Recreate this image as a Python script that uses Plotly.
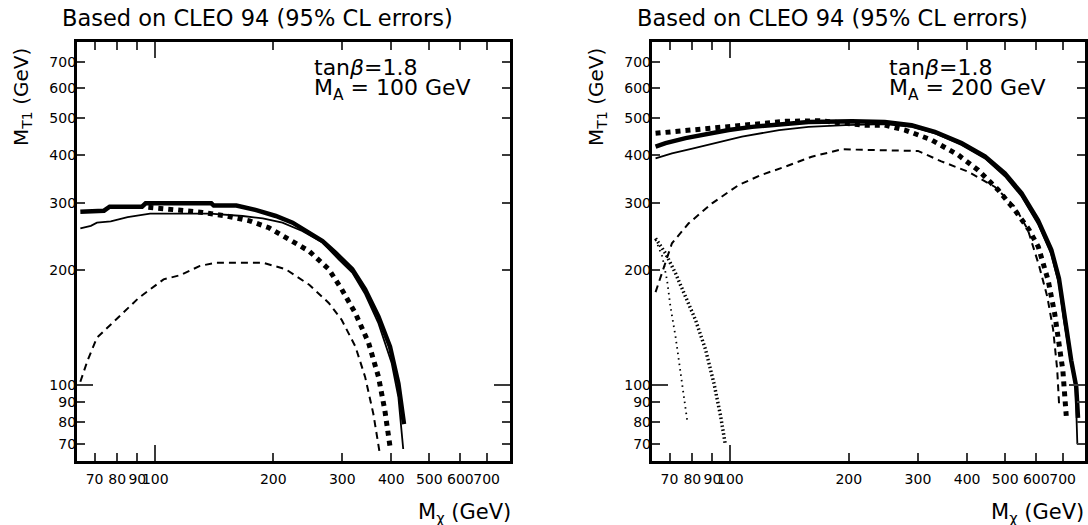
import plotly.graph_objects as go

# ---------------- data ----------------
# tick values shared by both axes of both panels
tick_vals = [70, 80, 90, 100, 200, 300, 400, 500, 600, 700]
decade_tick = [100]

# panel 1: tan(beta)=1.8, M_A = 100 GeV
p1_thick_x = [64.4, 74, 76.5, 92.5, 94.5, 139, 141, 161, 181, 203, 224, 247, 267, 288, 318, 343, 371, 397, 417, 431]
p1_thick_y = [284, 286, 293, 293, 299, 299, 295, 295, 287, 277, 266, 251, 238, 222, 201, 178, 151, 126, 101, 79]
p1_thin_x = [64.4, 68.5, 71, 77, 85, 97, 138, 167, 188, 211, 237, 267, 294, 318, 343, 371, 401, 417, 429]
p1_thin_y = [257, 261, 266, 268, 275, 281, 281, 277, 273, 266, 253, 236, 213, 197, 173, 145, 114, 93, 68]
p1_sq_x = [96, 113.5, 132, 152, 174, 195, 219, 247, 277, 299, 324, 350, 371, 385, 397]
p1_sq_y = [292, 288, 283, 277, 269, 258, 241, 224, 201, 178, 154, 129, 105, 86, 69]
p1_dash_x = [64.4, 67.2, 71, 78.5, 90.7, 105, 116, 130, 143, 188, 215, 247, 277, 299, 324, 343, 360, 374]
p1_dash_y = [102, 116, 133, 147, 169, 189, 194, 205, 209, 209, 201, 183, 164, 148, 126, 105, 84, 66]

# panel 2: tan(beta)=1.8, M_A = 200 GeV
p2_thick_x = [64.5, 68.4, 76.9, 86.5, 99, 113.5, 133, 158, 204, 247, 289, 331, 387, 444, 499, 550, 606, 655, 685, 708, 736, 758, 766]
p2_thick_y = [421, 430, 443, 454, 465, 474, 482, 488, 490, 488, 479, 460, 430, 397, 358, 318, 270, 226, 190, 150, 116, 99, 82]
p2_thin_x = [64.5, 71, 80, 93.4, 107, 133, 158, 196, 247, 289, 331, 387, 444, 499, 550, 606, 655, 685, 705, 733, 755, 763]
p2_thin_y = [392, 404, 416, 433, 447, 465, 474, 479, 482, 474, 456, 425, 392, 352, 312, 264, 220, 184, 148, 116, 99, 70]
p2_sq_x = [64.5, 76.9, 93.4, 113.5, 138, 168, 220, 247, 278, 325, 380, 427, 480, 529, 575, 607, 643, 668, 688, 701, 715]
p2_sq_y = [456, 464, 474, 482, 490, 492, 479, 479, 465, 438, 400, 365, 324, 287, 255, 230, 188, 154, 128, 109, 83]
p2_dash_x = [64.5, 68.4, 71, 78.3, 89.8, 105, 120, 138, 161, 192, 300, 344, 402, 471, 529, 571, 610, 640, 662, 678, 686]
p2_dash_y = [175, 208, 235, 265, 299, 334, 355, 373, 396, 414, 410, 385, 362, 330, 293, 255, 205, 170, 140, 110, 88]
p2_dot_x = [64.5, 67.1, 69, 70.4, 72.5, 74.6, 77.6]
p2_dot_y = [240, 217, 188, 160, 134, 109, 81]
p2_bar_x = [64.5, 68.4, 72.5, 76.9, 81.5, 86.4, 90.8, 94.4, 97.1]
p2_bar_y = [242, 221, 196, 170, 148, 124, 101, 83, 69.7]

titles = ["Based on CLEO 94 (95% CL errors)", "Based on CLEO 94 (95% CL errors)"]
ma_labels = ["M<sub>A</sub> = 100 GeV", "M<sub>A</sub> = 200 GeV"]

# ---------------- styling ----------------
FONT = "DejaVu Sans"
X_RANGE = [[1.8, 2.905], [1.8, 2.902]]
Y_RANGE = [1.801, 2.898]
X_DOM = [[77 / 1088, 511 / 1088], [653 / 1088, 1087 / 1088]]
Y_DOM = [64 / 525, 483 / 525]

fig = go.Figure()


def curve(x, y, panel, width, dash="solid"):
    fig.add_trace(go.Scatter(
        x=x, y=y, mode="lines",
        line=dict(color="black", width=width, dash=dash),
        xaxis="x" if panel == 0 else "x2",
        yaxis="y" if panel == 0 else "y2",
        showlegend=False, hoverinfo="skip"))


SQ = "5px,5px"
DASH = "7px,5px"

curve(p1_dash_x, p1_dash_y, 0, 2, DASH)
curve(p1_sq_x, p1_sq_y, 0, 5, SQ)
curve(p1_thin_x, p1_thin_y, 0, 1.8)
curve(p1_thick_x, p1_thick_y, 0, 4.5)

curve(p2_dash_x, p2_dash_y, 1, 2, DASH)
curve(p2_dot_x, p2_dot_y, 1, 1.8, "1.5px,4px")
curve(p2_bar_x, p2_bar_y, 1, 3.5, "1.5px,2.5px")
curve(p2_sq_x, p2_sq_y, 1, 5, SQ)
curve(p2_thin_x, p2_thin_y, 1, 1.8)
curve(p2_thick_x, p2_thick_y, 1, 4.5)

# empty traces that bring the long decade-tick axes into the layout
for xa, ya in [("x3", "y"), ("x", "y3"), ("x4", "y2"), ("x2", "y4")]:
    fig.add_trace(go.Scatter(x=[], y=[], xaxis=xa, yaxis=ya, showlegend=False, hoverinfo="skip"))

tick_text = [str(v) for v in tick_vals]


def main_axis(rng, dom, anchor, standoff):
    return dict(type="log", range=rng, domain=dom, anchor=anchor,
                showline=True, linecolor="black", linewidth=3, mirror="ticks",
                ticks="inside", ticklen=8, tickwidth=1.5, tickcolor="#3a3a3a",
                tickmode="array", tickvals=tick_vals, ticktext=tick_text,
                tickangle=0, showgrid=False, zeroline=False, fixedrange=True,
                ticklabelstandoff=standoff,
                tickfont=dict(family=FONT, size=14, color="black"))


def decade_axis(rng, over, anchor):
    return dict(type="log", range=rng, overlaying=over, anchor=anchor,
                showline=False, mirror="ticks",
                ticks="inside", ticklen=16, tickwidth=1.5, tickcolor="#3a3a3a",
                tickmode="array", tickvals=decade_tick, showticklabels=False,
                showgrid=False, zeroline=False, fixedrange=True)


annotations = []
for i, (cx, xt_x, yt_x, lab_x) in enumerate([(258, 514, 22, 313), (834, 1088, 598, 889)]):
    annotations.append(dict(text=titles[i], xref="paper", yref="paper",
                            x=cx / 1088, y=1 - 18 / 525, xanchor="center", yanchor="middle",
                            showarrow=False, font=dict(family=FONT, size=22.5, color="black")))
    annotations.append(dict(text="M<sub>T1</sub> (GeV)", xref="paper", yref="paper",
                            x=yt_x / 1088, y=1 - 97 / 525, xanchor="center", yanchor="middle",
                            textangle=-90, showarrow=False,
                            font=dict(family=FONT, size=20, color="black")))
    annotations.append(dict(text="M<sub>χ</sub> (GeV)", xref="paper", yref="paper",
                            x=xt_x / 1088, y=1 - 513 / 525, xanchor="right", yanchor="middle",
                            showarrow=False, font=dict(family=FONT, size=21, color="black")))
    annotations.append(dict(text="tan<i>β</i>=1.8", xref="paper", yref="paper",
                            x=lab_x / 1088, y=1 - 67.5 / 525, xanchor="left", yanchor="middle",
                            showarrow=False, font=dict(family=FONT, size=22, color="black")))
    annotations.append(dict(text=ma_labels[i], xref="paper", yref="paper",
                            x=lab_x / 1088, y=1 - 89.5 / 525, xanchor="left", yanchor="middle",
                            showarrow=False, font=dict(family=FONT, size=22, color="black")))

fig.update_layout(
    width=1088, height=525,
    margin=dict(l=0, r=0, t=0, b=0),
    paper_bgcolor="white", plot_bgcolor="white",
    showlegend=False,
    xaxis=main_axis(X_RANGE[0], X_DOM[0], "y", 3),
    yaxis=main_axis(Y_RANGE, Y_DOM, "x", -5),
    xaxis2=main_axis(X_RANGE[1], X_DOM[1], "y2", 3),
    yaxis2=main_axis(Y_RANGE, Y_DOM, "x2", -5),
    xaxis3=decade_axis(X_RANGE[0], "x", "y"),
    yaxis3=decade_axis(Y_RANGE, "y", "x"),
    xaxis4=decade_axis(X_RANGE[1], "x2", "y2"),
    yaxis4=decade_axis(Y_RANGE, "y2", "x2"),
    annotations=annotations,
)

fig.write_html("out.html")
